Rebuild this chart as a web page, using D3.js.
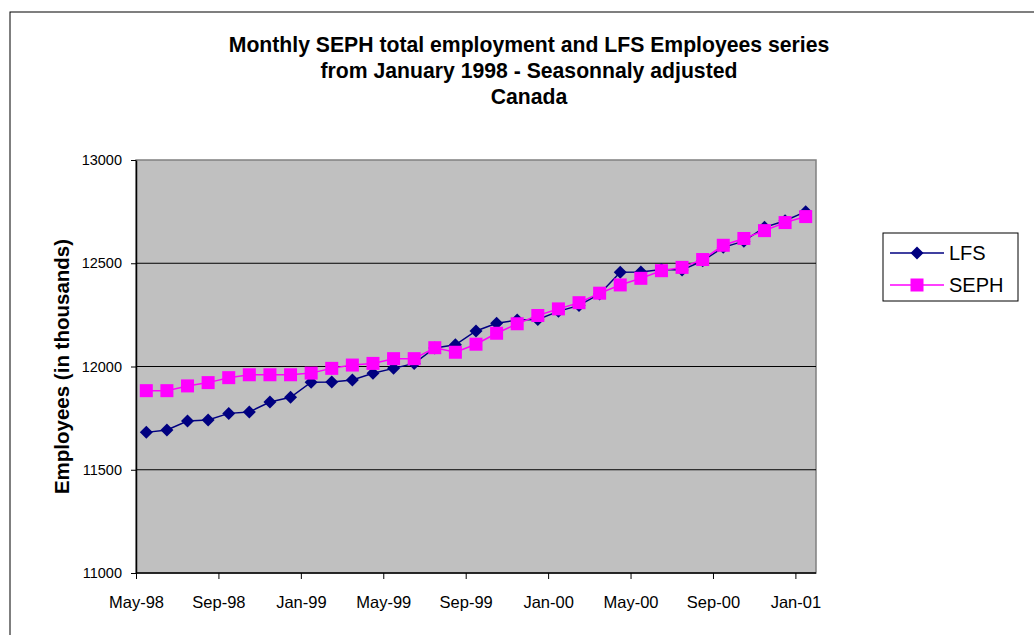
<!DOCTYPE html>
<html>
<head>
<meta charset="utf-8">
<script src="https://d3js.org/d3.v7.min.js"></script>
<style>
  body { margin: 0; background: #fff; }
  text { font-family: Arial, "Liberation Sans", sans-serif; }
</style>
</head>
<body>
<script>
var width = 1034,
    height = 635,
    margin = { top: 160, right: 220, bottom: 62, left: 136 };

// monthly categories, May 1998 to January 2001
var months = ['May-98', 'Jun-98', 'Jul-98', 'Aug-98', 'Sep-98', 'Oct-98', 'Nov-98', 'Dec-98',
  'Jan-99', 'Feb-99', 'Mar-99', 'Apr-99', 'May-99', 'Jun-99', 'Jul-99', 'Aug-99',
  'Sep-99', 'Oct-99', 'Nov-99', 'Dec-99', 'Jan-00', 'Feb-00', 'Mar-00', 'Apr-00',
  'May-00', 'Jun-00', 'Jul-00', 'Aug-00', 'Sep-00', 'Oct-00', 'Nov-00', 'Dec-00', 'Jan-01'];

var lfs = [11681, 11693, 11736, 11741, 11773, 11780, 11828, 11851,
  11924, 11925, 11935, 11967, 11991, 12015, 12090, 12105,
  12172, 12209, 12225, 12228, 12267, 12296, 12351, 12456,
  12458, 12470, 12467, 12512, 12577, 12607, 12674, 12706, 12750];

var seph = [11883, 11883, 11906, 11922, 11946, 11960, 11960, 11960,
  11968, 11991, 12007, 12015, 12038, 12038, 12091, 12069,
  12108, 12161, 12207, 12247, 12279, 12309, 12355, 12395,
  12427, 12464, 12480, 12518, 12587, 12620, 12658, 12697, 12726];

var yTicks = [11000, 11500, 12000, 12500, 13000];
var xLabels = ['May-98', 'Sep-98', 'Jan-99', 'May-99', 'Sep-99', 'Jan-00', 'May-00', 'Sep-00', 'Jan-01'];

var titleLines = ['Monthly SEPH total employment and LFS Employees series',
  'from January 1998 - Seasonnaly adjusted', 'Canada'];

var series = [
  { name: 'LFS', values: lfs, color: '#000080', shape: 'diamond' },
  { name: 'SEPH', values: seph, color: '#ff00ff', shape: 'square' }
];

var svg = d3.select('body').append('svg')
    .attr('width', width)
    .attr('height', height);

// outer chart border
svg.append('rect')
    .attr('x', 10).attr('y', 12)
    .attr('width', width + 20).attr('height', height + 20)
    .attr('fill', '#fff')
    .attr('stroke', '#000')
    .attr('stroke-width', 1);

var w = width - margin.left - margin.right + 2,
    h = height - margin.top - margin.bottom;

var xScale = d3.scaleBand().domain(months).range([0, w]),
    yScale = d3.scaleLinear().domain([11000, 13000]).range([h, 0]);

var g = svg.append('g')
    .attr('transform', 'translate(' + margin.left + ',' + margin.top + ')');

// plot area
g.append('rect')
    .attr('width', w).attr('height', h)
    .attr('fill', '#c0c0c0')
    .attr('stroke', '#808080')
    .attr('stroke-width', 1.5);

// gridlines
g.selectAll('.grid')
    .data(yTicks.slice(1, -1))
    .enter().append('line')
    .attr('x1', 0).attr('x2', w)
    .attr('y1', function(d) { return yScale(d); })
    .attr('y2', function(d) { return yScale(d); })
    .attr('stroke', '#000')
    .attr('stroke-width', 1);

// y axis
var yAxis = g.append('g')
    .call(d3.axisLeft(yScale).tickValues(yTicks).tickFormat(d3.format('d'))
      .tickSize(5).tickSizeOuter(0).tickPadding(9));
yAxis.select('.domain').attr('stroke-width', 1.5);
yAxis.selectAll('text').attr('font-size', 14.5).attr('font-family', 'Arial, "Liberation Sans", sans-serif');

// x axis: ticks on category boundaries, every 4 months
var xAxisScale = d3.scalePoint().domain(months).range([0, w - xScale.bandwidth()]);
var xAxis = g.append('g')
    .attr('transform', 'translate(0,' + h + ')')
    .call(d3.axisBottom(xAxisScale).tickValues(xLabels).tickSize(6).tickSizeOuter(0).tickPadding(17));
xAxis.select('.domain').attr('d', 'M0,0H' + w).attr('stroke-width', 1.5);
xAxis.selectAll('text').attr('font-size', 16.5).attr('font-family', 'Arial, "Liberation Sans", sans-serif');

// title
svg.append('text')
    .attr('x', 529).attr('y', 52)
    .attr('text-anchor', 'middle')
    .attr('font-size', 21.2).attr('font-weight', 'bold')
    .selectAll('tspan')
    .data(titleLines)
    .enter().append('tspan')
    .attr('x', 529)
    .attr('dy', function(d, i) { return i === 0 ? 0 : 26; })
    .text(function(d) { return d; });

// y axis title
svg.append('text')
    .attr('transform', 'translate(69,' + (margin.top + h / 2) + ') rotate(-90)')
    .attr('text-anchor', 'middle')
    .attr('font-size', 20.5).attr('font-weight', 'bold')
    .text('Employees (in thousands)');

var line = d3.line()
    .x(function(d, i) { return xScale(months[i]) + xScale.bandwidth() / 2; })
    .y(function(d) { return yScale(d); });

function marker(sel, s) {
  if (s.shape === 'diamond') {
    sel.append('path').attr('d', 'M0,-6.5L6.5,0L0,6.5L-6.5,0Z').attr('fill', s.color);
  } else {
    sel.append('rect').attr('x', -6.5).attr('y', -6.5).attr('width', 13).attr('height', 13).attr('fill', s.color);
  }
}

series.forEach(function(s) {
  g.append('path')
    .datum(s.values)
    .attr('fill', 'none')
    .attr('stroke', s.color)
    .attr('stroke-width', 1.5)
    .attr('d', line);

  g.selectAll('.pt-' + s.name)
    .data(s.values)
    .enter().append('g')
    .attr('class', 'pt-' + s.name)
    .attr('transform', function(d, i) {
      return 'translate(' + (xScale(months[i]) + xScale.bandwidth() / 2) + ',' + yScale(d) + ')';
    })
    .each(function() { marker(d3.select(this), s); });
});

// legend
var legend = svg.append('g').attr('transform', 'translate(883,233)');
legend.append('rect')
    .attr('width', 135).attr('height', 68)
    .attr('fill', '#fff').attr('stroke', '#000').attr('stroke-width', 1);

series.forEach(function(s, i) {
  var row = legend.append('g').attr('transform', 'translate(0,' + (20 + i * 32) + ')');
  row.append('line')
    .attr('x1', 7).attr('x2', 61)
    .attr('stroke', s.color).attr('stroke-width', 1.5);
  var m = row.append('g').attr('transform', 'translate(34,0)');
  marker(m, s);
  row.append('text')
    .attr('x', 66).attr('y', 7)
    .attr('font-size', 20)
    .text(s.name);
});
</script>
</body>
</html>
